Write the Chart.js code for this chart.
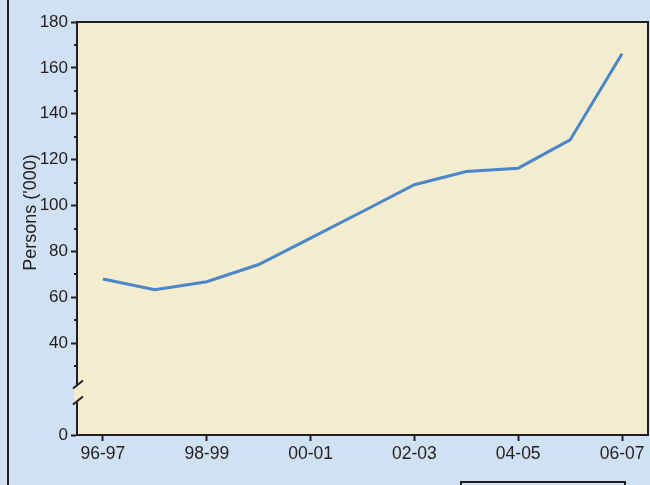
<!DOCTYPE html>
<html>
<head>
<meta charset="utf-8">
<script src="https://cdn.jsdelivr.net/npm/chart.js@4/dist/chart.umd.min.js"></script>
<style>
  html, body { margin: 0; padding: 0; background: #cfe1f2; }
  canvas { display: block; }
</style>
</head>
<body>
<canvas id="personsChart" width="650" height="485"></canvas>
<script>
// years on the x axis
const years = ['96-97', '97-98', '98-99', '99-00', '00-01', '01-02', '02-03', '03-04', '04-05', '05-06', '06-07'];
// persons ('000)
const persons = [68, 63.3, 66.8, 74.3, 85.8, 97.4, 109.1, 114.8, 116.3, 128.6, 166.2];
// labelled y ticks and small in-between ticks
const yTicks = [0, 40, 60, 80, 100, 120, 140, 160, 180];
const yMinorTicks = [30, 50, 70, 90, 110, 130, 150, 170];
const yTitle = "Persons ('000)";

const SKY = '#cfe1f2';
const SAND = '#f3ecce';
const INK = '#231f20';
const LINE = '#4a86c8';
const FONT = 'Liberation Sans, Arial, sans-serif';

// backgrounds, frame, minor ticks, axis break and the y title
const decor = {
  id: 'decor',
  beforeDraw(chart) {
    const ctx = chart.ctx;
    const a = chart.chartArea;
    ctx.save();
    ctx.fillStyle = SKY;
    ctx.fillRect(0, 0, chart.width, chart.height);
    ctx.fillStyle = SAND;
    ctx.fillRect(a.left, a.top, a.right - a.left, a.bottom - a.top);
    ctx.restore();
  },
  afterDraw(chart) {
    const ctx = chart.ctx;
    const a = chart.chartArea;
    const y = chart.scales.y;
    ctx.save();
    ctx.strokeStyle = INK;
    ctx.lineWidth = 2;
    // top and right edge of plot
    ctx.beginPath();
    ctx.moveTo(a.left, a.top);
    ctx.lineTo(a.right, a.top);
    ctx.lineTo(a.right, a.bottom);
    ctx.stroke();
    // page border on the left
    ctx.beginPath();
    ctx.moveTo(8, 0);
    ctx.lineTo(8, chart.height);
    ctx.stroke();
    // box cut off at the bottom
    ctx.strokeRect(461, 482, 164, 20);

    // minor ticks
    yMinorTicks.forEach(v => {
      const py = Math.round(y.getPixelForValue(v));
      ctx.beginPath();
      ctx.moveTo(a.left - 3, py);
      ctx.lineTo(a.left, py);
      ctx.stroke();
    });

    // axis break
    const x0 = a.left - 4, x1 = a.left + 6;
    const b1 = y.getPixelForValue(22), b2 = y.getPixelForValue(15);
    ctx.fillStyle = SAND;
    ctx.beginPath();
    ctx.moveTo(x0, b1 + 4);
    ctx.lineTo(x1, b1 - 4);
    ctx.lineTo(x1, b2 - 4);
    ctx.lineTo(x0, b2 + 4);
    ctx.closePath();
    ctx.fill();
    ctx.fillStyle = SKY;
    ctx.fillRect(x0 - 2, b1 + 4, a.left - x0 - 1, b2 - b1);
    ctx.beginPath();
    ctx.moveTo(x0, b1 + 4);
    ctx.lineTo(x1, b1 - 4);
    ctx.moveTo(x0, b2 + 4);
    ctx.lineTo(x1, b2 - 4);
    ctx.stroke();

    // y title, sits a bit above the middle of the axis
    ctx.translate(31, y.getPixelForValue(97));
    ctx.rotate(-Math.PI / 2);
    ctx.fillStyle = INK;
    ctx.font = '18px ' + FONT;
    ctx.textAlign = 'center';
    ctx.textBaseline = 'middle';
    ctx.fillText(yTitle, 0, 0);
    ctx.restore();
  }
};

new Chart(document.getElementById('personsChart'), {
  type: 'line',
  data: {
    labels: years,
    datasets: [{
      data: persons,
      borderColor: LINE,
      borderWidth: 3,
      pointRadius: 0,
      tension: 0,
      fill: false
    }]
  },
  options: {
    responsive: false,
    animation: false,
    layout: { padding: { top: 22, right: 2, left: 0, bottom: 0 } },
    plugins: {
      legend: { display: false },
      tooltip: { enabled: false }
    },
    scales: {
      x: {
        offset: true,
        afterFit(scale) { scale.height = 50; },
        border: { color: INK, width: 2 },
        grid: {
          offset: false,
          drawOnChartArea: false,
          tickLength: 6,
          tickWidth: 2,
          tickColor: ctx => (ctx.index % 2 === 0 ? INK : 'rgba(0,0,0,0)')
        },
        ticks: {
          autoSkip: false,
          maxRotation: 0,
          padding: 3,
          color: INK,
          font: { family: FONT, size: 17.5 },
          callback: (v, i) => (i % 2 === 0 ? years[i] : '')
        }
      },
      y: {
        min: 0,
        max: 180,
        afterFit(scale) { scale.width = 77; },
        afterBuildTicks(scale) { scale.ticks = yTicks.map(v => ({ value: v })); },
        border: { color: INK, width: 2 },
        grid: {
          drawOnChartArea: false,
          tickLength: 6,
          tickWidth: 2,
          tickColor: INK
        },
        ticks: {
          padding: 3,
          color: INK,
          font: { family: FONT, size: 17 }
        }
      }
    }
  },
  plugins: [decor]
});
</script>
</body>
</html>
